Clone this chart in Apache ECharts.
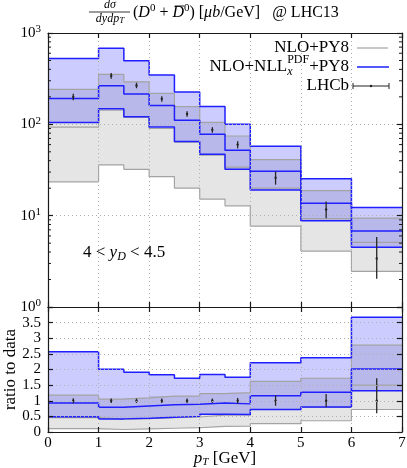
<!DOCTYPE html>
<html><head><meta charset="utf-8">
<script src="https://cdn.jsdelivr.net/npm/echarts@6/dist/echarts.min.js"></script>
<style>html,body{margin:0;padding:0;background:#fff}#c{width:407px;height:468px}</style>
</head><body><div id="c"></div>
<script>
// ---------------- data ----------------
const binEdges   = [0, 1, 1.5, 2, 2.5, 3, 3.5, 4, 5, 6, 7];
const binCenters = [0.5, 1.25, 1.75, 2.25, 2.75, 3.25, 3.75, 4.5, 5.5, 6.5];

// absolute cross sections (upper panel), mu b / GeV
const nloUp  = [242, 352, 292, 218, 156, 105, 74.5, 41, 18.8, 9.4];
const nloCen = [93, 143, 119, 90, 64, 46, 34, 20, 9.3, 5.1];
const nloDn  = [23.5, 35.9, 32.2, 26.7, 20, 15.2, 12.8, 7.7, 4.1, 2.46];
const nllUp  = [527, 679, 497, 346, 226, 157, 100, 57.5, 25.4, 12.3];
const nllCen = [192, 264, 215, 161, 111, 78, 52, 30.6, 13.7, 6.8];
const nllDn  = [105, 148, 121, 93.4, 65, 47, 32.2, 19.1, 8.8, 4.5];
const lhcb   = [200, 340, 267, 190, 130, 87, 60, 26, 11.7, 3.4];
// LHCb relative uncertainties
const lhcbErrUp = [0.08, 0.07, 0.07, 0.07, 0.07, 0.07, 0.09, 0.17, 0.22, 0.72];
const lhcbErrDn = [0.08, 0.07, 0.07, 0.07, 0.07, 0.07, 0.09, 0.16, 0.20, 0.40];

// ratio to data (lower panel)
const rNloUp  = [1.18, 1.05, 1.09, 1.15, 1.15, 1.23, 1.26, 1.62, 1.72, 2.78];
const rNloCen = [0.46, 0.41, 0.43, 0.46, 0.48, 0.54, 0.55, 0.72, 0.79, 1.50];
const rNloDn  = [0.11, 0.08, 0.10, 0.12, 0.14, 0.18, 0.19, 0.27, 0.36, 0.72];
const rNllUp  = [2.57, 2.01, 1.91, 1.83, 1.72, 1.84, 1.75, 2.22, 2.38, 3.67];
const rNllCen = [0.93, 0.79, 0.83, 0.87, 0.89, 0.93, 0.90, 1.16, 1.27, 2.02];
const rNllDn  = [0.49, 0.42, 0.44, 0.47, 0.50, 0.57, 0.56, 0.72, 0.80, 1.32];

const ratioTicks = [0, 0.5, 1, 1.5, 2, 2.5, 3, 3.5];
const logMinorTicks = [2,3,4,5,6,7,8,9,20,30,40,50,60,70,80,90,200,300,400,500,600,700,800,900];

// ---------------- style ----------------
const SERIF = '"Liberation Serif", "Times New Roman", serif';
const GRAY_FILL = 'rgba(0,0,0,0.10)';
const BLUE_FILL = 'rgba(0,0,255,0.20)';
const GRAY_LINE = '#a3a3a3';
const BLUE_LINE = '#1f1fff';
const FRAME = {color: '#1a1a1a', width: 1.2};
const GRID_LINE = {show: true, lineStyle: {color: '#b0b0b0', type: [1, 3], width: 1}};

const cctx = document.createElement('canvas').getContext('2d');
function tw(t, f) { cctx.font = f; return cctx.measureText(t).width; }

function bandSeries(xi, yi, lo, hi, color) {
  const data = lo.map((v, i) => [binEdges[i], binEdges[i + 1], v, hi[i]]);
  return {
    type: 'custom', xAxisIndex: xi, yAxisIndex: yi, data, silent: true, clip: true,
    encode: {x: [0, 1], y: [2, 3]},
    renderItem(params, api) {
      if (params.dataIndexInside !== 0) return null;
      const n = params.dataInsideLength;
      const top = [], bot = [];
      for (let i = 0; i < n; i++) {
        const x0 = api.value(0, i), x1 = api.value(1, i), l = api.value(2, i), h = api.value(3, i);
        top.push(api.coord([x0, h]), api.coord([x1, h]));
        bot.push(api.coord([x0, l]), api.coord([x1, l]));
      }
      return {type: 'polygon', shape: {points: top.concat(bot.reverse())}, style: {fill: color}};
    }
  };
}
function stepSeries(xi, yi, vals, color, width) {
  const data = binEdges.map((x, i) => [x, vals[Math.min(i, vals.length - 1)]]);
  return {type: 'line', xAxisIndex: xi, yAxisIndex: yi, data, step: 'end', showSymbol: false,
    symbol: 'none', silent: true, lineStyle: {color, width}, z: 3};
}
function errSeries(xi, yi, ys, lo, hi, color) {
  const data = binCenters.map((x, i) => [x, ys[i], lo[i], hi[i]]);
  return {
    type: 'custom', xAxisIndex: xi, yAxisIndex: yi, data, silent: true, z: 5,
    encode: {x: 0, y: [1, 2, 3]},
    renderItem(params, api) {
      const x = api.value(0);
      const pc = api.coord([x, api.value(1)]);
      const pl = api.coord([x, api.value(2)]);
      const ph = api.coord([x, api.value(3)]);
      return {type: 'group', children: [
        {type: 'line', shape: {x1: pl[0], y1: pl[1], x2: ph[0], y2: ph[1]}, style: {stroke: color, lineWidth: 1.3}},
        {type: 'circle', shape: {cx: pc[0], cy: pc[1], r: 1.2}, style: {fill: color}}
      ]};
    }
  };
}
function minorTickSeries() {
  return {
    type: 'custom', xAxisIndex: 0, yAxisIndex: 0, silent: true, z: 6,
    data: logMinorTicks.map(v => [0, v]), encode: {x: 0, y: 1},
    renderItem(params, api) {
      const l = api.coord([binEdges[0], api.value(1)]);
      const r = api.coord([binEdges[binEdges.length - 1], api.value(1)]);
      return {type: 'group', children: [
        {type: 'line', shape: {x1: l[0], y1: l[1], x2: l[0] + 3, y2: l[1]}, style: {stroke: '#1a1a1a', lineWidth: 1}},
        {type: 'line', shape: {x1: r[0], y1: r[1], x2: r[0] - 3, y2: r[1]}, style: {stroke: '#1a1a1a', lineWidth: 1}}
      ]};
    }
  };
}

const lhcbLo = lhcb.map((v, i) => v * (1 - lhcbErrDn[i]));
const lhcbHi = lhcb.map((v, i) => v * (1 + lhcbErrUp[i]));
const ones = lhcb.map(() => 1);
const rLo = lhcbErrDn.map(e => 1 - e);
const rHi = lhcbErrUp.map(e => 1 + e);

function xAx(grid, pos, labels, split, name) {
  const a = {
    gridIndex: grid, type: 'value', min: 0, max: 7, interval: 1, position: pos, z: 10,
    axisLine: {show: true, onZero: false, lineStyle: FRAME},
    axisTick: {show: true, inside: true, length: 5, lineStyle: FRAME},
    axisLabel: {show: labels, color: '#000', fontFamily: SERIF, fontSize: 15, margin: 4},
    splitLine: split ? GRID_LINE : {show: false}
  };
  if (name) {
    a.name = '{i|p}{sb|T}{n| [GeV]}';
    a.nameLocation = 'middle'; a.nameGap = 17; a.nameMoveOverlap = false;
    a.nameTextStyle = {rich: {
      i: {fontFamily: SERIF, fontStyle: 'italic', fontSize: 17, color: '#000', lineHeight: 19},
      sb: {fontFamily: SERIF, fontStyle: 'italic', fontSize: 11, color: '#000', verticalAlign: 'bottom', lineHeight: 11},
      n: {fontFamily: SERIF, fontSize: 17, color: '#000', lineHeight: 19}
    }};
  }
  return a;
}
const supRich = {
  b: {fontFamily: SERIF, fontSize: 15, color: '#000', lineHeight: 18},
  s: {fontFamily: SERIF, fontSize: 11, color: '#000', verticalAlign: 'top', lineHeight: 11}
};

const option = {
  animation: false,
  grid: [
    {left: 48, right: 5, top: 33, height: 274, containLabel: false, outerBoundsMode: 'none'},
    {left: 48, right: 5, top: 307, height: 125, containLabel: false, outerBoundsMode: 'none'}
  ],
  xAxis: [
    xAx(0, 'bottom', false, true),
    xAx(0, 'top', false, false),
    xAx(1, 'bottom', true, true, true),
    xAx(1, 'top', false, false)
  ],
  yAxis: [
    {gridIndex: 0, type: 'log', logBase: 10, min: 1, max: 1000, position: 'left', z: 10,
      axisLine: {show: true, onZero: false, lineStyle: FRAME},
      axisTick: {show: true, inside: true, length: 5, lineStyle: FRAME},
      axisLabel: {margin: 7, formatter: v => '{b|10}{s|' + Math.round(Math.log10(v)) + '}', rich: supRich},
      splitLine: GRID_LINE},
    {gridIndex: 0, type: 'log', logBase: 10, min: 1, max: 1000, position: 'right', z: 10,
      axisLine: {show: true, onZero: false, lineStyle: FRAME},
      axisTick: {show: true, inside: true, length: 5, lineStyle: FRAME},
      axisLabel: {show: false}, splitLine: {show: false}},
    {gridIndex: 1, type: 'value', min: 0, max: 4, interval: 0.5, position: 'left', z: 10,
      axisLine: {show: true, onZero: false, lineStyle: FRAME},
      axisTick: {show: true, inside: true, length: 5, lineStyle: FRAME},
      axisLabel: {color: '#000', fontFamily: SERIF, fontSize: 15, margin: 7,
        formatter: v => ratioTicks.indexOf(v) >= 0 ? String(v) : ''},
      splitLine: GRID_LINE,
      name: 'ratio to data', nameLocation: 'middle', nameGap: 29, nameRotate: 90, nameMoveOverlap: false,
      nameTextStyle: {fontFamily: SERIF, fontSize: 17, color: '#000'}},
    {gridIndex: 1, type: 'value', min: 0, max: 4, interval: 0.5, position: 'right', z: 10,
      axisLine: {show: true, onZero: false, lineStyle: FRAME},
      axisTick: {show: true, inside: true, length: 5, lineStyle: FRAME},
      axisLabel: {show: false}, splitLine: {show: false}}
  ],
  series: [
    bandSeries(0, 0, nloDn, nloUp, GRAY_FILL),
    bandSeries(0, 0, nllDn, nllUp, BLUE_FILL),
    stepSeries(0, 0, nloUp, GRAY_LINE, 1.2),
    stepSeries(0, 0, nloCen, GRAY_LINE, 1.2),
    stepSeries(0, 0, nloDn, GRAY_LINE, 1.2),
    stepSeries(0, 0, nllUp, BLUE_LINE, 1.5),
    stepSeries(0, 0, nllCen, BLUE_LINE, 1.5),
    stepSeries(0, 0, nllDn, BLUE_LINE, 1.5),
    errSeries(0, 0, lhcb, lhcbLo, lhcbHi, '#262626'),
    minorTickSeries(),
    bandSeries(2, 2, rNloDn, rNloUp, GRAY_FILL),
    bandSeries(2, 2, rNllDn, rNllUp, BLUE_FILL),
    stepSeries(2, 2, rNloUp, GRAY_LINE, 1.2),
    stepSeries(2, 2, rNloCen, GRAY_LINE, 1.2),
    stepSeries(2, 2, rNloDn, GRAY_LINE, 1.2),
    stepSeries(2, 2, rNllUp, BLUE_LINE, 1.5),
    stepSeries(2, 2, rNllCen, BLUE_LINE, 1.5),
    stepSeries(2, 2, rNllDn, BLUE_LINE, 1.5),
    errSeries(2, 2, ones, rLo, rHi, '#262626')
  ]
};

// ---------------- text (title, legend, annotation) ----------------
const LF = 17;
const fN = LF + 'px ' + SERIF;
const fSmall = '12px ' + SERIF;
const legR = 349;
const wPY8 = tw('+PY8', fN);
const pdfR = legR - wPY8;
const pdfL = pdfR - tw('PDF', fSmall);
const T = (x, y, text, font, align, extra) => Object.assign({type: 'text', x, y, z: 20,
  style: {text, font, fill: '#000', align: align || 'left', verticalAlign: 'middle'}}, extra || {});

// title layout
const TS = 16, TSS = 11;
const fT = TS + 'px ' + SERIF, fTI = 'italic ' + TS + 'px ' + SERIF, fTS = TSS + 'px ' + SERIF;
const titleX = 133, titleY = 13;
const dbarX = titleX + tw('(', fT) + tw('D', fTI) + tw('0', fTS) + tw(' + ', fT);
const dbarW = tw('D', fTI);
const titleRich = {
  n: {fontFamily: SERIF, fontSize: TS, color: '#000', lineHeight: 20},
  i: {fontFamily: SERIF, fontStyle: 'italic', fontSize: TS, color: '#000', lineHeight: 20},
  sp: {fontFamily: SERIF, fontSize: TSS, color: '#000', verticalAlign: 'top', lineHeight: 10}
};
const denRich = {
  i: {fontFamily: SERIF, fontStyle: 'italic', fontSize: 12, color: '#000', lineHeight: 13},
  sb: {fontFamily: SERIF, fontStyle: 'italic', fontSize: 9, color: '#000', verticalAlign: 'bottom', lineHeight: 8}
};
const annRich = {
  n: {fontFamily: SERIF, fontSize: 17, color: '#000', lineHeight: 20},
  i: {fontFamily: SERIF, fontStyle: 'italic', fontSize: 17, color: '#000', lineHeight: 20},
  sb: {fontFamily: SERIF, fontStyle: 'italic', fontSize: 12, color: '#000', verticalAlign: 'bottom', lineHeight: 11}
};

option.graphic = [
  // title
  T(110, 5, 'dσ', 'italic 12px ' + SERIF, 'center'),
  {type: 'line', z: 20, shape: {x1: 89, y1: 12, x2: 130, y2: 12}, style: {stroke: '#000', lineWidth: 0.8}},
  {type: 'text', x: 110, y: 19, z: 20, style: {text: '{i|dydp}{sb|T}', rich: denRich, align: 'center', verticalAlign: 'middle'}},
  {type: 'text', x: titleX, y: titleY, z: 20, style: {
    text: '{n|(}{i|D}{sp|0}{n| + }{i|D}{sp|0}{n|) [}{i|μb}{n|/GeV]   @ LHC13}',
    rich: titleRich, align: 'left', verticalAlign: 'middle'}},
  {type: 'line', z: 20, shape: {x1: dbarX + 2.5, y1: titleY - 7, x2: dbarX + dbarW + 0.5, y2: titleY - 7}, style: {stroke: '#000', lineWidth: 0.9}},
  // legend
  T(legR, 48, 'NLO+PY8', fN, 'right'),
  {type: 'line', z: 20, shape: {x1: 357, y1: 48, x2: 388, y2: 48}, style: {stroke: GRAY_LINE, lineWidth: 1.2}},
  T(legR, 67, '+PY8', fN, 'right'),
  T(pdfL, 60, 'PDF', fSmall, 'left'),
  T(pdfL, 72, 'x', 'italic 12px ' + SERIF, 'left'),
  T(pdfL, 67, 'NLO+NLL', fN, 'right'),
  {type: 'line', z: 20, shape: {x1: 357, y1: 67, x2: 389, y2: 67}, style: {stroke: BLUE_LINE, lineWidth: 1.5}},
  T(legR, 86, 'LHCb', fN, 'right'),
  {type: 'line', z: 20, shape: {x1: 353, y1: 86, x2: 389, y2: 86}, style: {stroke: '#222', lineWidth: 1}},
  {type: 'line', z: 20, shape: {x1: 353, y1: 83, x2: 353, y2: 89}, style: {stroke: '#222', lineWidth: 1}},
  {type: 'line', z: 20, shape: {x1: 389, y1: 83, x2: 389, y2: 89}, style: {stroke: '#222', lineWidth: 1}},
  {type: 'circle', z: 20, shape: {cx: 371, cy: 86, r: 1.2}, style: {fill: '#222'}},
  // annotation
  {type: 'text', x: 83, y: 253, z: 20, style: {text: '{n|4 < }{i|y}{sb|D}{n| < 4.5}', rich: annRich, align: 'left', verticalAlign: 'middle'}}
];

const chart = echarts.init(document.getElementById('c'), null, {renderer: 'canvas'});
chart.setOption(option);
</script>
</body></html>
